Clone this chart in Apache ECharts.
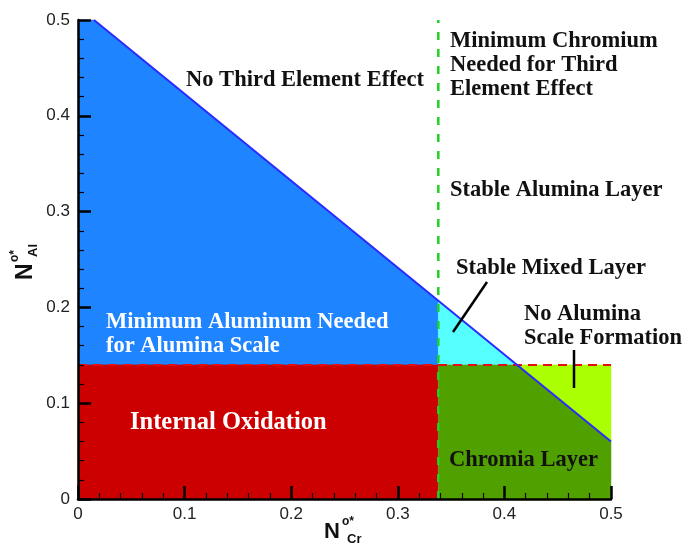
<!DOCTYPE html>
<html><head><meta charset="utf-8">
<script src="https://cdn.jsdelivr.net/npm/echarts@6/dist/echarts.min.js"></script>
<style>html,body{margin:0;padding:0;background:#fff}#c{width:683px;height:547px}</style>
</head><body><div id="c"></div>
<script>
// ---- data ----
const xTicks = [0, 0.1, 0.2, 0.3, 0.4, 0.5];
const yTicks = [0, 0.1, 0.2, 0.3, 0.4, 0.5];
const boundaryLine = [[0.015, 0.5], [0.5, 0.06]];      // third element effect boundary
const crMinLine = [[0.338, 0], [0.338, 0.5]];          // minimum chromium
const alMinLine = [[0, 0.14], [0.5, 0.14]];            // minimum aluminum
const regionBlue = [[0, 0.14], [0, 0.5], [0.015, 0.5], [0.338, 0.207], [0.338, 0.14]];
const regionCyan = [[0.338, 0.14], [0.338, 0.207], [0.412, 0.14]];
const regionRed = [[0, 0], [0, 0.14], [0.338, 0.14], [0.338, 0]];
const regionDarkGreen = [[0.338, 0], [0.338, 0.14], [0.412, 0.14], [0.5, 0.06], [0.5, 0]];
const regionLightGreen = [[0.412, 0.14], [0.5, 0.14], [0.5, 0.06]];

const regions = [regionBlue, regionCyan, regionRed, regionDarkGreen, regionLightGreen];
const regionColors = ['#1e84ff', '#55ffff', '#cc0000', '#50a000', '#aaff00'];

const chart = echarts.init(document.getElementById('c'), null, {renderer: 'canvas'});
const serif = '"Liberation Serif", "Times New Roman", serif';
const sans = '"Liberation Sans", Arial, sans-serif';
function T(x, y, text, color, size) {
  return {type: 'text', left: x, top: y, z: 100,
    style: {text: text, fill: color || '#111', font: 'bold ' + (size || 22.5) + 'px ' + serif, lineHeight: 24}};
}
const axisCommon = {
  type: 'value', min: 0, max: 0.5, interval: 0.1, z: 10,
  axisLine: {show: true, onZero: false, lineStyle: {color: '#000', width: 2.5}},
  axisTick: {show: true, inside: true, length: 13, lineStyle: {color: '#000', width: 2.5}},
  minorTick: {show: true, splitNumber: 5, length: 6, lineStyle: {color: '#000', width: 1.2}},
  splitLine: {show: false},
  axisLabel: {color: '#222', fontSize: 17, fontFamily: sans,
    formatter: v => (Math.round(v * 10) / 10).toString()}
};
chart.setOption({
  animation: false,
  grid: {left: 78, right: 72, top: 20, bottom: 48},
  xAxis: Object.assign({}, axisCommon, {axisLabel: Object.assign({}, axisCommon.axisLabel, {margin: 7})}),
  yAxis: Object.assign({}, axisCommon, {axisLabel: Object.assign({}, axisCommon.axisLabel, {margin: 8})}),
  series: [
    {type: 'custom', z: 1, data: regions.map((r, i) => [i]),
      renderItem: function (params, api) {
        const i = params.dataIndex;
        return {type: 'polygon', shape: {points: regions[i].map(p => api.coord(p))},
          style: {fill: regionColors[i], stroke: regionColors[i], lineWidth: 0.5}};
      }},
    {type: 'line', z: 3, data: alMinLine, symbol: 'none',
      lineStyle: {color: '#e01010', width: 2, type: [9, 6]}},
    {type: 'line', z: 4, data: crMinLine, symbol: 'none',
      lineStyle: {color: '#22d022', width: 2.5, type: [8, 9]}},
    {type: 'line', z: 5, data: boundaryLine, symbol: 'none',
      lineStyle: {color: '#2a2aff', width: 2}}
  ],
  graphic: [
    T(186, 68, 'No Third Element Effect'),
    T(450, 29, 'Minimum Chromium\nNeeded for Third\nElement Effect'),
    T(450, 178, 'Stable Alumina Layer'),
    T(456, 256, 'Stable Mixed Layer'),
    T(524, 302, 'No Alumina\nScale Formation'),
    T(106, 310, 'Minimum Aluminum Needed\nfor Alumina Scale', '#fff'),
    {type: 'text', left: 130, top: 410, z: 100,
      style: {text: 'Internal Oxidation', fill: '#fff', font: 'bold 24.5px ' + serif, lineHeight: 26}},
    T(449, 448, 'Chromia Layer'),
    {type: 'line', z: 100, shape: {x1: 487, y1: 282, x2: 453, y2: 332}, style: {stroke: '#000', lineWidth: 2.5}},
    {type: 'line', z: 100, shape: {x1: 574, y1: 350, x2: 574, y2: 388}, style: {stroke: '#000', lineWidth: 2.5}},
    // x axis title
    {type: 'text', left: 324, top: 521, style: {text: 'N', font: 'bold 22px ' + sans, fill: '#111'}},
    {type: 'text', left: 342, top: 516, style: {text: 'o*', font: 'bold 12px ' + sans, fill: '#111'}},
    {type: 'text', left: 347, top: 533, style: {text: 'Cr', font: 'bold 13px ' + sans, fill: '#111'}},
    // y axis title (rotated)
    {type: 'group', x: 14, y: 280, rotation: Math.PI / 2, children: [
      {type: 'text', x: 0, y: 0, style: {text: 'N', font: 'bold 23px ' + sans, fill: '#111'}},
      {type: 'text', x: 18, y: -5, style: {text: 'o*', font: 'bold 12px ' + sans, fill: '#111'}},
      {type: 'text', x: 23, y: 13, style: {text: 'Al', font: 'bold 13px ' + sans, fill: '#111'}}
    ]}
  ]
});
</script></body></html>
